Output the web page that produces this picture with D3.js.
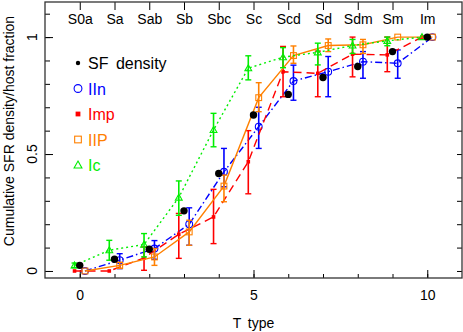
<!DOCTYPE html>
<html>
<head>
<meta charset="utf-8">
<script src="https://cdn.jsdelivr.net/npm/d3@7"></script>
<style>
  body { margin: 0; background: #fff; }
  svg text { font-family: "Liberation Sans", Arial, sans-serif; }
</style>
</head>
<body>
<div id="root"></div>
<script>
// Chart data.
const tType = [0, 1, 2, 3, 4, 5, 6, 7, 8, 9, 10];
const hubbleLabels = ['S0a', 'Sa', 'Sab', 'Sb', 'Sbc', 'Sc', 'Scd', 'Sd', 'Sdm', 'Sm', 'Im'];
const xTicks = [0, 5, 10];
const yTicks = [0, 0.5, 1];

const sfDensity = [0.024, 0.05, 0.093, 0.257, 0.417, 0.667, 0.755, 0.827, 0.874, 0.938, 1.0];

const iinVal = [0.0, 0.046, 0.096, 0.2, 0.424, 0.617, 0.812, 0.852, 0.895, 0.888, 1.0];
const iinHi  = [0.0, 0.074, 0.13, 0.27, 0.524, 0.7, 0.88, 0.917, 0.938, 0.945, 1.0];
const iinLo  = [0.0, 0.01, 0.05, 0.11, 0.36, 0.524, 0.73, 0.745, 0.824, 0.824, 1.0];

const impVal = [0.0, 0.0, 0.056, 0.157, 0.231, 0.467, 0.852, 0.845, 0.927, 0.924, 1.0];
const impHi  = [0.0, 0.0, 0.103, 0.246, 0.349, 0.6, 0.96, 0.94, 1.0, 1.0, 1.0];
const impLo  = [0.0, 0.0, 0.003, 0.054, 0.117, 0.33, 0.745, 0.745, 0.83, 0.852, 1.0];

const iipVal = [0.0, 0.024, 0.06, 0.167, 0.363, 0.741, 0.921, 0.964, 0.967, 1.0, 1.0];
const iipHi  = [0.0, 0.037, 0.096, 0.217, 0.41, 0.805, 0.962, 0.992, 0.99, 1.0, 1.0];
const iipLo  = [0.0, 0.011, 0.024, 0.11, 0.296, 0.681, 0.888, 0.938, 0.93, 1.0, 1.0];

const icVal = [0.024, 0.089, 0.113, 0.314, 0.603, 0.867, 0.914, 0.935, 0.964, 0.984, 1.0];
const icHi  = [0.034, 0.131, 0.16, 0.385, 0.674, 0.92, 0.955, 0.974, 0.99, 1.0, 1.0];
const icLo  = [0.014, 0.046, 0.06, 0.238, 0.531, 0.817, 0.869, 0.881, 0.93, 0.963, 1.0];

// Series styling (markers drawn slightly off the integer T type).
const series = [
  { name: 'IIn', color: '#0000ff', shift: 0.15, val: iinVal, hi: iinHi, lo: iinLo, dash: '7,3,1.5,3', marker: 'circle' },
  { name: 'Imp', color: '#ff0000', shift: -0.15, val: impVal, hi: impHi, lo: impLo, dash: '8,5', marker: 'fsquare' },
  { name: 'IIP', color: '#ff8000', shift: 0.15, val: iipVal, hi: iipHi, lo: iipLo, dash: null, marker: 'square' },
  { name: 'Ic', color: '#00ee00', shift: -0.15, val: icVal, hi: icHi, lo: icLo, dash: '2,3', marker: 'triangle' }
];

let width = 463;
let height = 332;
let padLeft = 45, padRight = 462, padTop = 2, padBottom = 278;

let svg = d3.select('#root')
  .append('svg')
  .attr('width', width)
  .attr('height', height);

let xScale = d3.scaleLinear().domain([-1, 11]).range([padLeft, padRight]);
let yScale = d3.scaleLinear().domain([-0.03, 1.15]).range([padBottom, padTop]);

// Marker drawing helper.
let drawMarker = (g, kind, cx, cy, color, big) => {
  let s = big ? 1.15 : 1;
  if (kind === 'circle') {
    g.append('circle').attr('cx', cx).attr('cy', cy).attr('r', 3.4 * s)
      .attr('fill', 'none').attr('stroke', color).attr('stroke-width', 1.1);
  } else if (kind === 'fsquare') {
    let h = (big ? 2.4 : 1.8);
    g.append('rect').attr('x', cx - h).attr('y', cy - h).attr('width', 2 * h).attr('height', 2 * h)
      .attr('fill', color);
  } else if (kind === 'square') {
    let h = 2.9 * s;
    g.append('rect').attr('x', cx - h).attr('y', cy - h).attr('width', 2 * h).attr('height', 2 * h)
      .attr('fill', 'none').attr('stroke', color).attr('stroke-width', 1.1);
  } else if (kind === 'triangle') {
    let h = 3.4 * s;
    g.append('path')
      .attr('d', `M${cx},${cy - h}L${cx + h},${cy + h * 0.75}L${cx - h},${cy + h * 0.75}Z`)
      .attr('fill', 'none').attr('stroke', color).attr('stroke-width', 1.1);
  } else if (kind === 'dot') {
    g.append('circle').attr('cx', cx).attr('cy', cy).attr('r', big ? 2.2 : 3.7).attr('fill', '#000');
  }
};

// Axes: ticks point inwards.
let minorY = d3.range(0, 1.101, 0.1);

svg.append('g')
  .attr('transform', `translate(${padLeft},0)`)
  .call(d3.axisLeft(yScale).tickValues(minorY).tickSize(-5).tickFormat(''));
svg.append('g')
  .attr('transform', `translate(${padLeft},0)`)
  .call(d3.axisLeft(yScale).tickValues(yTicks).tickSize(-8).tickFormat(''));
svg.append('g')
  .attr('transform', `translate(${padRight},0)`)
  .call(d3.axisRight(yScale).tickValues(minorY).tickSize(-5).tickFormat(''));
svg.append('g')
  .attr('transform', `translate(0,${padBottom})`)
  .call(d3.axisBottom(xScale).tickValues(tType).tickSize(-4).tickFormat(''));
let xAxis = svg.append('g')
  .attr('transform', `translate(0,${padBottom})`)
  .call(d3.axisBottom(xScale).tickValues(xTicks).tickSize(-8).tickPadding(12).tickFormat(d3.format('d')));
xAxis.selectAll('text').attr('font-size', 14).attr('fill', '#000');
let topAxis = svg.append('g')
  .attr('transform', `translate(0,${padTop})`)
  .call(d3.axisTop(xScale).tickValues(tType).tickSize(-8).tickPadding(-22)
    .tickFormat((d, i) => hubbleLabels[i]));
topAxis.selectAll('text').attr('font-size', 14).attr('fill', '#000');
svg.selectAll('.domain').remove();
svg.selectAll('.tick line').attr('stroke', '#000').attr('stroke-width', 1);

// Rotated y tick labels.
svg.selectAll('.ylab')
  .data(yTicks)
  .enter()
  .append('text')
  .attr('class', 'ylab')
  .attr('transform', d => `translate(37,${yScale(d)}) rotate(-90)`)
  .attr('text-anchor', 'middle')
  .attr('font-size', 14)
  .text(d => d3.format('')(d));

// Frame.
svg.append('rect')
  .attr('x', padLeft).attr('y', padTop)
  .attr('width', padRight - padLeft).attr('height', padBottom - padTop)
  .attr('fill', 'none').attr('stroke', '#333').attr('stroke-width', 1.3);

// Axis titles.
svg.append('text')
  .attr('transform', 'translate(14,131) rotate(-90)')
  .attr('text-anchor', 'middle')
  .attr('font-size', 14)
  .text('Cumulative SFR density/host fraction');
svg.append('text')
  .attr('x', (padLeft + padRight) / 2).attr('y', 328)
  .attr('text-anchor', 'middle')
  .attr('font-size', 14)
  .attr('word-spacing', 3)
  .text('T type');

// Series: lines, error bars, markers.
series.forEach(s => {
  let g = svg.append('g');
  let pts = tType.map((t, i) => [xScale(t + s.shift), yScale(s.val[i])]);
  g.append('path')
    .attr('d', d3.line()(pts))
    .attr('fill', 'none')
    .attr('stroke', s.color)
    .attr('stroke-width', 1.4)
    .attr('stroke-dasharray', s.dash);
  tType.forEach((t, i) => {
    if (s.hi[i] - s.lo[i] < 0.004) return;
    let x = xScale(t + s.shift);
    g.append('line').attr('x1', x).attr('x2', x)
      .attr('y1', yScale(s.hi[i])).attr('y2', yScale(s.lo[i]))
      .attr('stroke', s.color).attr('stroke-width', 1.6);
    [s.hi[i], s.lo[i]].forEach(v => {
      g.append('line').attr('x1', x - 3).attr('x2', x + 3)
        .attr('y1', yScale(v)).attr('y2', yScale(v))
        .attr('stroke', s.color).attr('stroke-width', 1.4);
    });
  });
  pts.forEach(p => drawMarker(g, s.marker, p[0], p[1], s.color, false));
});

let dots = svg.append('g');
tType.forEach((t, i) => drawMarker(dots, 'dot', xScale(t), yScale(sfDensity[i]), '#000', false));

// Legend.
let legendItems = [{ name: 'SF density', color: '#000', marker: 'dot' }]
  .concat(series.map(s => ({ name: s.name, color: s.color, marker: s.marker })));
let legend = svg.append('g');
legendItems.forEach((d, i) => {
  let cy = 63 + i * 25.5;
  drawMarker(legend, d.marker, 78, cy, d.color, true);
  legend.append('text')
    .attr('x', 88).attr('y', cy + 6)
    .attr('font-size', 16)
    .attr('word-spacing', 3)
    .attr('fill', d.color)
    .text(d.name);
});
</script>
</body>
</html>
